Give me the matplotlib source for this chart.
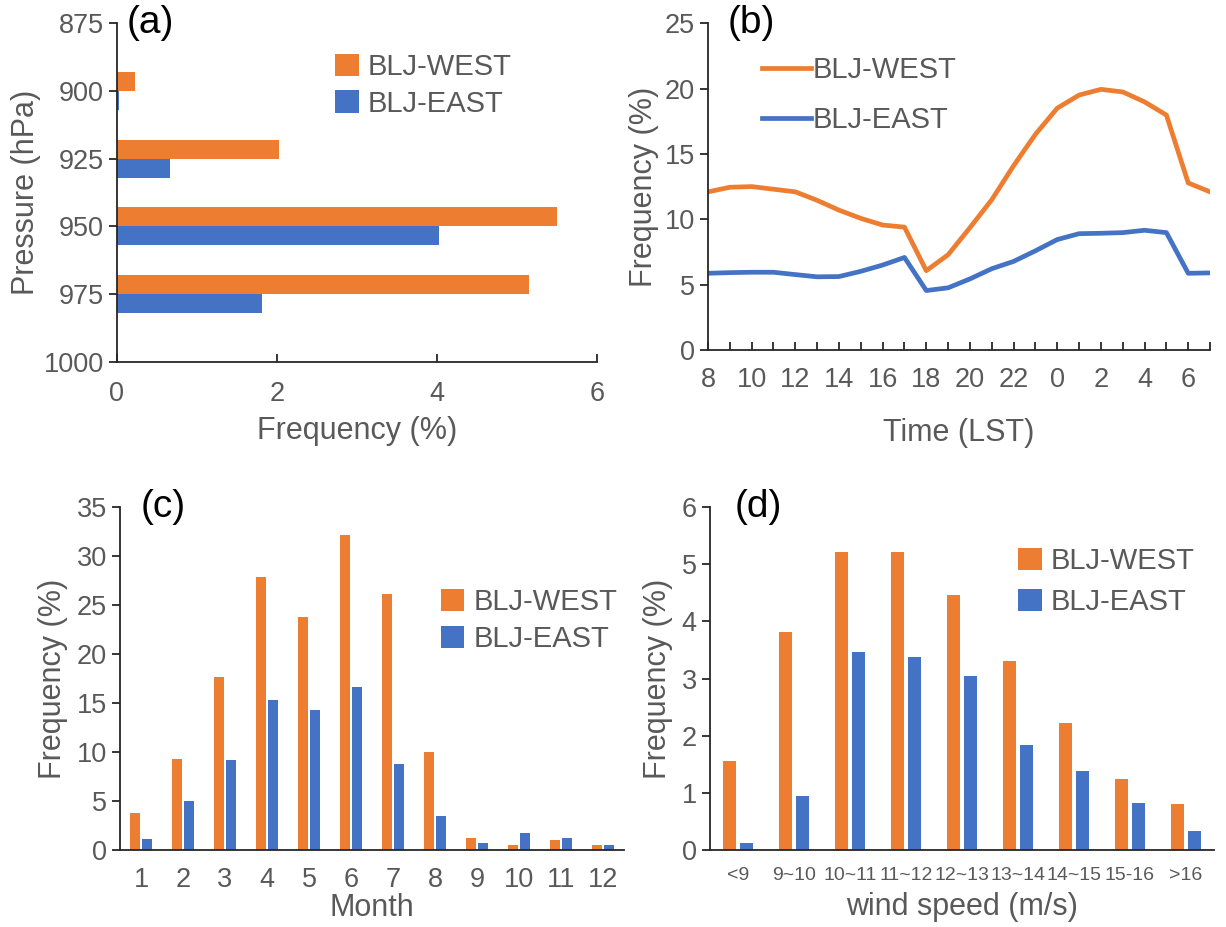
import numpy as np
import matplotlib
matplotlib.use("Agg")
import matplotlib.pyplot as plt

plt.rcParams['font.family'] = ['Liberation Sans', 'DejaVu Sans']

ORANGE = "#ED7D31"
BLUE = "#4472C4"
GREY = "#595959"

# ---------------- DATA ----------------
# (a) level of jet core
pressure = [900, 925, 950, 975]
lev_west = [0.22, 2.02, 5.50, 5.15]
lev_east = [0.03, 0.66, 4.02, 1.81]

# (b) diurnal cycle, 08 LST -> 07 LST next day
hour_labels = ["8", "9", "10", "11", "12", "13", "14", "15", "16", "17", "18", "19",
               "20", "21", "22", "23", "0", "1", "2", "3", "4", "5", "6", "7"]
diu_west = [12.1, 12.45, 12.5, 12.3, 12.1, 11.45, 10.7, 10.07, 9.56, 9.4, 6.07, 7.29,
            9.36, 11.5, 14.1, 16.5, 18.5, 19.5, 19.94, 19.74, 18.98, 17.97, 12.78, 12.1]
diu_east = [5.87, 5.92, 5.95, 5.95, 5.77, 5.6, 5.62, 6.02, 6.5, 7.08, 4.55, 4.76,
            5.44, 6.22, 6.78, 7.59, 8.45, 8.9, 8.93, 8.98, 9.16, 8.98, 5.87, 5.9]

# (c) monthly
months = ["1", "2", "3", "4", "5", "6", "7", "8", "9", "10", "11", "12"]
mon_west = [3.81, 9.3, 17.64, 27.9, 23.8, 32.2, 26.15, 9.98, 1.19, 0.54, 1.02, 0.54]
mon_east = [1.12, 5.04, 9.19, 15.3, 14.3, 16.6, 8.78, 3.47, 0.72, 1.77, 1.19, 0.54]

# (d) wind speed
ws_labels = ["<9", "9~10", "10~11", "11~12", "12~13", "13~14", "14~15", "15-16", ">16"]
ws_west = [1.56, 3.82, 5.21, 5.22, 4.47, 3.30, 2.23, 1.245, 0.80]
ws_east = [0.126, 0.95, 3.46, 3.38, 3.04, 1.84, 1.39, 0.83, 0.33]

TICK_FS = 19.5
LABEL_FS = 22
LEG_FS = 21
PANEL_FS = 28


def style_axes(ax):
    for s in ["top", "right"]:
        ax.spines[s].set_visible(False)
    for s in ["left", "bottom"]:
        ax.spines[s].set_color("#262626")
        ax.spines[s].set_linewidth(1.3)
    ax.tick_params(colors="#262626", labelcolor=GREY, labelsize=TICK_FS, width=1.3, length=6)


fig = plt.figure(figsize=(12.26, 9.27), dpi=100)

# ---------------- (a) ----------------
ax = fig.add_axes([0.0954, 0.6095, 0.3916, 0.3655])
h = 7.0
ax.barh(np.array(pressure) - h / 2, lev_west, height=h, color=ORANGE, label="BLJ-WEST")
ax.barh(np.array(pressure) + h / 2, lev_east, height=h, color=BLUE, label="BLJ-EAST")
ax.set_ylim(1000, 875)
ax.set_yticks([875, 900, 925, 950, 975, 1000])
ax.set_xlim(0, 6)
ax.set_xticks([0, 2, 4, 6])
style_axes(ax)
ax.tick_params(axis="x", direction="in", pad=14)
ax.set_xlabel("Frequency (%)", fontsize=LABEL_FS, color=GREY, labelpad=6)
ax.set_ylabel("Pressure (hPa)", fontsize=LABEL_FS, color=GREY, labelpad=2)
ax.text(0.02, 1.0, "(a)", transform=ax.transAxes, fontsize=PANEL_FS, va="center", ha="left")
ax.legend(loc="upper left", bbox_to_anchor=(0.4, 0.99), frameon=False, fontsize=LEG_FS,
          handlelength=0.8, handleheight=0.8, handletextpad=0.3, labelspacing=0.3,
          labelcolor=GREY)

# ---------------- (b) ----------------
ax = fig.add_axes([0.5775, 0.6224, 0.4095, 0.3526])
x = np.arange(len(hour_labels))
ax.plot(x, diu_west, color=ORANGE, lw=3.4, label="BLJ-WEST")
ax.plot(x, diu_east, color=BLUE, lw=3.4, label="BLJ-EAST")
ax.set_xlim(0, len(hour_labels) - 1)
ax.set_ylim(0, 25)
ax.set_yticks(range(0, 26, 5))
ax.set_xticks(x)
ax.set_xticklabels([lab if i % 2 == 0 else "" for i, lab in enumerate(hour_labels)])
style_axes(ax)
ax.tick_params(axis="x", direction="in", pad=12)
ax.set_xlabel("Time (LST)", fontsize=LABEL_FS, color=GREY, labelpad=18)
ax.set_ylabel("Frequency (%)", fontsize=LABEL_FS, color=GREY, labelpad=4)
ax.text(0.04, 1.0, "(b)", transform=ax.transAxes, fontsize=PANEL_FS, va="center", ha="left")
ax.legend(loc="upper left", bbox_to_anchor=(0.055, 0.98), frameon=False, fontsize=LEG_FS,
          handlelength=1.7, handletextpad=0.05, labelspacing=0.75, labelcolor=GREY)

# ---------------- (c) ----------------
ax = fig.add_axes([0.0979, 0.083, 0.4111, 0.370])
x = np.arange(1, len(months) + 1)
w = 0.24
ax.bar(x - 0.14, mon_west, width=w, color=ORANGE, label="BLJ-WEST")
ax.bar(x + 0.14, mon_east, width=w, color=BLUE, label="BLJ-EAST")
ax.set_xlim(0.5, len(months) + 0.5)
ax.set_ylim(0, 35)
ax.set_yticks(range(0, 36, 5))
ax.set_xticks(x)
ax.set_xticklabels(months)
style_axes(ax)
ax.tick_params(axis="x", length=0, pad=12)
ax.set_xlabel("Month", fontsize=LABEL_FS, color=GREY, labelpad=0)
ax.set_ylabel("Frequency (%)", fontsize=LABEL_FS, color=GREY, labelpad=6)
ax.text(0.04, 1.0, "(c)", transform=ax.transAxes, fontsize=PANEL_FS, va="center", ha="left")
ax.legend(loc="upper left", bbox_to_anchor=(0.585, 0.84), frameon=False, fontsize=LEG_FS,
          handlelength=0.8, handleheight=0.8, handletextpad=0.3, labelspacing=0.3,
          labelcolor=GREY)

# ---------------- (d) ----------------
ax = fig.add_axes([0.579, 0.083, 0.4110, 0.370])
x = np.arange(len(ws_labels))
w = 0.23
ax.bar(x - 0.15, ws_west, width=w, color=ORANGE, label="BLJ-WEST")
ax.bar(x + 0.15, ws_east, width=w, color=BLUE, label="BLJ-EAST")
ax.set_xlim(-0.5, len(ws_labels) - 0.5)
ax.set_ylim(0, 6)
ax.set_yticks(range(0, 7))
ax.set_xticks(x)
ax.set_xticklabels(ws_labels)
style_axes(ax)
ax.tick_params(axis="x", length=0, pad=12, labelsize=14)
ax.set_xlabel("wind speed (m/s)", fontsize=LABEL_FS, color=GREY, labelpad=6)
ax.set_ylabel("Frequency (%)", fontsize=LABEL_FS, color=GREY, labelpad=6)
ax.text(0.05, 1.0, "(d)", transform=ax.transAxes, fontsize=PANEL_FS, va="center", ha="left")
ax.legend(loc="upper left", bbox_to_anchor=(0.56, 0.96), frameon=False, fontsize=LEG_FS,
          handlelength=0.8, handleheight=0.8, handletextpad=0.3, labelspacing=0.45,
          labelcolor=GREY)

fig.savefig("out.png", dpi=100)
